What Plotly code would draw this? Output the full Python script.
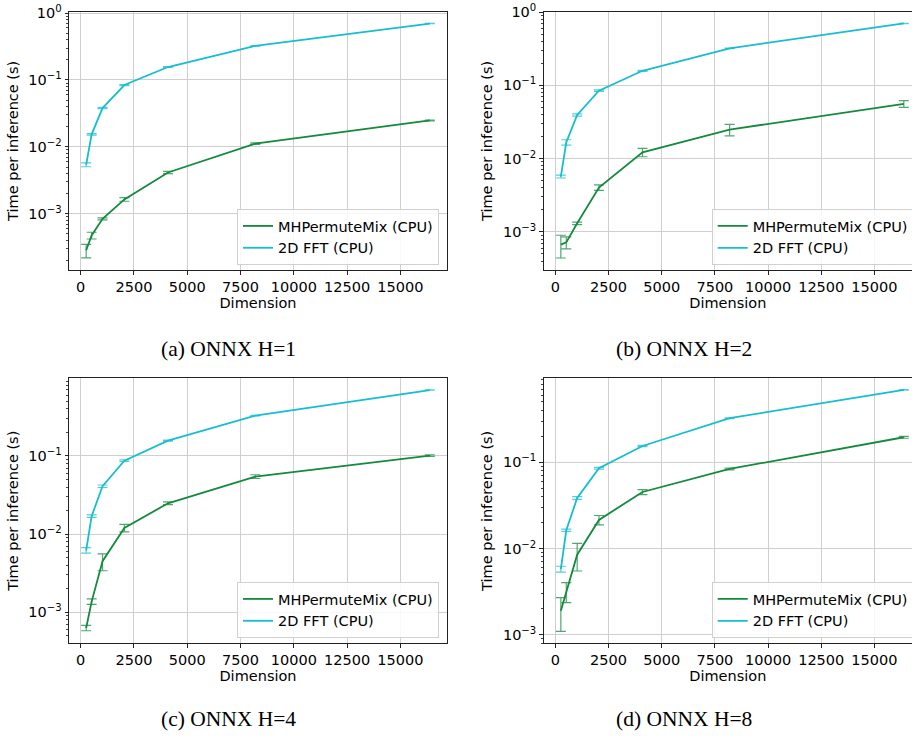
import plotly.graph_objects as go

# ---------------- data ----------------
dims = [256, 512, 1024, 2048, 4096, 8192, 16384]

# H = 1
mh_h1 = [2.85e-4, 4.75e-4, 8.4e-4, 1.64e-3, 4.14e-3, 1.12e-2, 2.48e-2]
mh_h1_err = [0.65e-4, 0.55e-4, 0.03e-3, 0.1e-3, 0.15e-3, 0.3e-3, 0.4e-3]
fft_h1 = [5.4e-3, 1.54e-2, 3.8e-2, 8.4e-2, 0.156, 0.324, 0.697]
fft_h1_err = [0.35e-3, 0.4e-3, 0.8e-3, 1.5e-3, 2.5e-3, 3e-3, 4e-3]

# H = 2
mh_h2 = [6.7e-4, 7.2e-4, 1.31e-3, 4.03e-3, 1.22e-2, 2.49e-2, 5.6e-2]
mh_h2_err = [2.3e-4, 1.35e-4, 0.05e-3, 0.35e-3, 1.6e-3, 4.5e-3, 6e-3]
fft_h2 = [5.69e-3, 1.67e-2, 3.94e-2, 8.46e-2, 0.158, 0.32, 0.70]
fft_h2_err = [0.25e-3, 1.4e-3, 1.5e-3, 2e-3, 2.5e-3, 3e-3, 4e-3]

# H = 4
mh_h4 = [6.3e-4, 1.37e-3, 4.5e-3, 1.2e-2, 2.48e-2, 5.45e-2, 0.101]
mh_h4_err = [0.5e-4, 0.11e-3, 1.1e-3, 1.3e-3, 1e-3, 3e-3, 2.5e-3]
fft_h4 = [6.2e-3, 1.7e-2, 4.1e-2, 8.7e-2, 0.157, 0.328, 0.698]
fft_h4_err = [0.5e-3, 0.6e-3, 1.5e-3, 2e-3, 2.5e-3, 3e-3, 4e-3]

# H = 8
mh_h8 = [1.9e-3, 3.2e-3, 8.5e-3, 2.15e-2, 4.53e-2, 8.37e-2, 0.195]
mh_h8_err = [0.8e-3, 0.83e-3, 3e-3, 2.7e-3, 3e-3, 2e-3, 5e-3]
fft_h8 = [5.8e-3, 1.63e-2, 3.86e-2, 8.53e-2, 0.1545, 0.324, 0.689]
fft_h8_err = [0.45e-3, 0.5e-3, 1.5e-3, 2e-3, 2.5e-3, 3e-3, 4e-3]

captions = ["(a) ONNX H=1", "(b) ONNX H=2", "(c) ONNX H=4", "(d) ONNX H=8"]
series_names = ["MHPermuteMix (CPU)", "2D FFT (CPU)"]

# y tick labels (powers of ten)
y_exponents = [-4, -3, -2, -1, 0]
y_tickvals = [10.0 ** e for e in y_exponents]
y_ticktext = ["10<sup>%s</sup>" % (str(e).replace("-", "\u2212")) for e in y_exponents]
y_minorvals = [m * 10.0 ** e for e in y_exponents for m in range(2, 10)]

panels = [
    (mh_h1, mh_h1_err, fft_h1, fft_h1_err),
    (mh_h2, mh_h2_err, fft_h2, fft_h2_err),
    (mh_h4, mh_h4_err, fft_h4, fft_h4_err),
    (mh_h8, mh_h8_err, fft_h8, fft_h8_err),
]

# ---------------- layout / style ----------------
W, H = 912, 736
GREEN = "#138a3e"
GREEN_ERR = "rgba(19,138,62,0.75)"
CYAN = "#17becf"
CYAN_ERR = "rgba(23,190,207,0.75)"
FONT = "DejaVu Sans"
FS = 14.5

def px_x(v):
    return v / W

def px_y(v):
    return 1 - v / H

# pixel boxes: (left, right, top, bottom)
boxes = [
    (69, 447, 11.7, 270),
    (543.7, 912, 11.7, 270),
    (69, 447, 378.3, 643.3),
    (543.7, 912, 378.3, 643.3),
]
xranges = [[-550, 17190], [-550, 16768], [-550, 17190], [-550, 16768]]
yranges = [[-3.84, 0.02], [-3.52, 0.005], [-3.397, -0.006], [-3.097, -0.027]]
legend_pos = [(439, 265), (913.7, 265), (439, 638), (913.7, 638)]
caption_pos = [(228, 349), (684, 349), (228, 719), (684, 719)]

fig = go.Figure()
layout = dict(
    width=W, height=H,
    margin=dict(l=0, r=0, t=0, b=0, autoexpand=False),
    paper_bgcolor="white", plot_bgcolor="white",
    font=dict(family=FONT, size=FS, color="black"),
    annotations=[],
)

for i, (mh, mh_err, fft, fft_err) in enumerate(panels):
    n = i + 1
    xa = "x" if n == 1 else f"x{n}"
    ya = "y" if n == 1 else f"y{n}"
    lg = "legend" if n == 1 else f"legend{n}"
    fig.add_trace(go.Scatter(
        x=dims, y=mh, mode="lines", name=series_names[0],
        line=dict(color=GREEN, width=1.8),
        error_y=dict(type="data", array=mh_err, visible=True,
                     color=GREEN_ERR, thickness=1.2, width=5),
        xaxis=xa, yaxis=ya, legend=lg,
    ))
    fig.add_trace(go.Scatter(
        x=dims, y=fft, mode="lines", name=series_names[1],
        line=dict(color=CYAN, width=1.8),
        error_y=dict(type="data", array=fft_err, visible=True,
                     color=CYAN_ERR, thickness=1.2, width=5),
        xaxis=xa, yaxis=ya, legend=lg,
    ))

    l, r, t, b = boxes[i]
    right_cut = (n % 2 == 0)
    xkey = "xaxis" if n == 1 else f"xaxis{n}"
    ykey = "yaxis" if n == 1 else f"yaxis{n}"
    layout[xkey] = dict(
        domain=[px_x(l), min(1.0, px_x(r))],
        anchor=ya, automargin=False,
        range=xranges[i],
        tickmode="linear", tick0=0, dtick=2500, tickformat="d",
        ticks="outside", ticklen=3.5, tickwidth=1, tickcolor="#222",
        showline=True, linecolor="#222", linewidth=1, mirror=True,
        showgrid=True, gridcolor="#cfcfcf", gridwidth=1,
        zeroline=False,
        tickfont=dict(family=FONT, size=FS, color="black"),
        title=dict(text="Dimension", font=dict(family=FONT, size=FS, color="black"), standoff=2),
    )
    layout[ykey] = dict(
        domain=[px_y(b), px_y(t)],
        anchor=xa, automargin=False,
        type="log",
        range=yranges[i],
        tickmode="array", tickvals=y_tickvals, ticktext=y_ticktext,
        ticks="outside", ticklen=3.5, tickwidth=1, tickcolor="#222",
        minor=dict(tickmode="array", tickvals=y_minorvals, ticks="outside",
                   ticklen=2, tickcolor="#444", showgrid=False),
        showline=True, linecolor="#222", linewidth=1, mirror=(not right_cut),
        showgrid=True, gridcolor="#cfcfcf", gridwidth=1,
        zeroline=False,
        tickfont=dict(family=FONT, size=FS, color="black"),
        title=dict(text="Time per inference (s)", font=dict(family=FONT, size=FS, color="black"), standoff=6),
    )
    lx, ly = legend_pos[i]
    layout[lg] = dict(
        x=lx / W, y=1 - ly / H, xanchor="right", yanchor="bottom",
        bgcolor="rgba(255,255,255,0.85)", bordercolor="#d0d0d0", borderwidth=1,
        font=dict(family=FONT, size=FS, color="black"),
        itemwidth=30, tracegroupgap=0,
    )
    cx, cy = caption_pos[i]
    layout["annotations"].append(dict(
        text=captions[i], x=cx / W, y=1 - cy / H, xref="paper", yref="paper",
        xanchor="center", yanchor="middle", showarrow=False,
        font=dict(family="Liberation Serif", size=21.5, color="black"),
    ))

fig.update_layout(**layout)
fig.write_html("out.html", config={"displayModeBar": False},
               post_script="document.body.style.margin='0';")
